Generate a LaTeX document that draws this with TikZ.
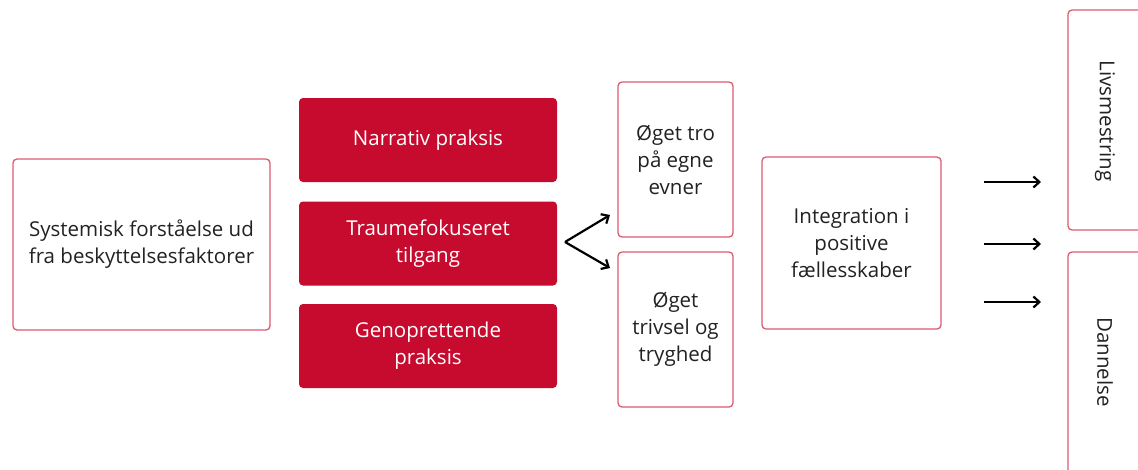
\documentclass[tikz,border=0pt]{standalone}
\usepackage{fontspec}
\setmainfont{Open Sans}
\usetikzlibrary{arrows.meta}
\definecolor{boxred}{HTML}{C60B2E}
\definecolor{edgepink}{HTML}{DE5A71}
\definecolor{txt}{HTML}{222222}
\tikzset{
  lbl/.style={font=\fontsize{20.5}{27}\selectfont},
  outline/.style={draw=edgepink, line width=1.3pt, rounded corners=4pt, fill=white, text=txt, align=center, inner sep=0pt, lbl},
  redbox/.style={fill=boxred, rounded corners=4pt, text=white, align=center, inner sep=0pt, minimum width=258pt, minimum height=84pt, lbl},
  arr/.style={line width=2.2pt, -{Straight Barb[length=6pt,width=11pt,line width=2.2pt]}},
}
\begin{document}
\begin{tikzpicture}[x=1pt,y=-1pt]
\useasboundingbox (0,0) rectangle (1138,469);
\clip (0,0) rectangle (1138,469);
\node[outline, minimum width=257pt, minimum height=171pt] (sys) at (141.5,244.5) {Systemisk forståelse ud\\fra beskyttelsesfaktorer};
\node[redbox] (nar) at (428,140) {Narrativ praksis};
\node[redbox] (trau) at (428,243.5) {Traumefokuseret\\tilgang};
\node[redbox] (gen) at (428,346) {Genoprettende\\praksis};
\node[outline, minimum width=115pt, minimum height=155pt] (tro) at (675.5,159.5) {Øget tro\\på egne\\evner};
\node[outline, minimum width=115pt, minimum height=155pt] (triv) at (675.5,329.5) {Øget\\trivsel og\\tryghed};
\node[outline, minimum width=179pt, minimum height=172pt] (integ) at (851.5,243) {Integration i\\positive\\fællesskaber};
\node[outline, minimum width=120pt, minimum height=220pt] (livs) at (1128,120) {};
\node[rotate=-90, text=txt, lbl] (livst) at (1105,121) {Livsmestring};
\node[outline, minimum width=120pt, minimum height=260pt] (dan) at (1128,382) {};
\node[rotate=-90, text=txt, lbl] (dant) at (1105,362) {Dannelse};
\coordinate (v) at (565,242);
\coordinate (vt) at (610,215);
\coordinate (vb) at (610,268);
\draw[arr] (v) -- (vt);
\draw[arr] (v) -- (vb);
\coordinate (a1s) at (984,182); \coordinate (a1e) at (1041,182);
\coordinate (a2s) at (984,244); \coordinate (a2e) at (1041,244);
\coordinate (a3s) at (984,302); \coordinate (a3e) at (1041,302);
\draw[arr] (a1s) -- (a1e);
\draw[arr] (a2s) -- (a2e);
\draw[arr] (a3s) -- (a3e);
\end{tikzpicture}
\end{document}
